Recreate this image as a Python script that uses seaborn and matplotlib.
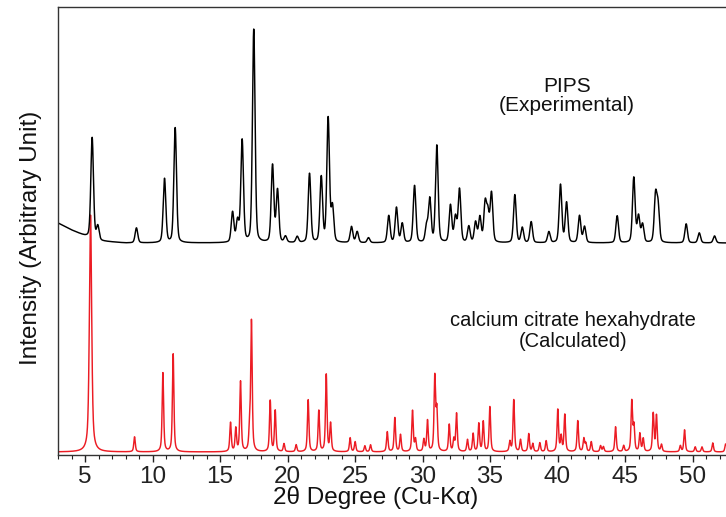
import numpy as np
import pandas as pd
import matplotlib
matplotlib.use("Agg")
import matplotlib.pyplot as plt
import seaborn as sns
from matplotlib.ticker import MultipleLocator

# ---- data (2theta positions, peak heights in arbitrary units) ----
exp_pos = [5.53, 5.95, 8.81, 10.89, 11.68, 15.93, 16.30, 16.64, 17.50, 18.89, 19.26, 19.85,
           20.72, 21.63, 22.50, 23.01, 23.33, 24.74, 25.16, 26.0, 27.50, 28.07, 28.50, 29.41,
           30.30, 30.54, 31.06, 32.07, 32.44, 32.74, 33.43, 33.93, 34.25, 34.64, 34.84, 35.11,
           36.84, 37.39, 38.05, 39.36, 40.22, 40.67, 41.63, 42.00, 44.42, 45.65, 46.00, 46.30,
           47.26, 47.45, 49.53, 50.50, 51.63]
exp_amp = [101, 14, 15, 64, 115, 30, 21, 102, 213, 77, 52, 6,
           6, 69, 65, 124, 35, 16, 11, 5, 27, 35, 19, 57,
           16, 43, 97, 37, 25, 53, 16, 20, 25, 38, 28, 49,
           48, 15, 21, 11, 58, 40, 27, 16, 27, 65, 26, 18,
           46, 35, 19, 10, 7]
exp_bg_x = [3.0, 4.0, 5.0, 6.0, 8.0, 52.5]
exp_bg_y = [232, 225, 219, 214, 212, 212]

calc_pos = [5.41, 8.67, 10.77, 11.53, 15.78, 16.17, 16.52, 17.19, 17.33, 18.72, 19.09, 19.74,
            20.64, 21.53, 22.32, 22.87, 23.19, 24.64, 25.01, 25.73, 26.15, 27.39, 27.95, 28.37,
            29.26, 29.48, 30.10, 30.37, 30.91, 31.06, 31.98, 32.32, 32.52, 33.33, 33.75, 34.17,
            34.50, 34.99, 36.47, 36.76, 37.26, 37.87, 38.17, 38.69, 39.16, 40.02, 40.27, 40.54,
            41.50, 41.95, 42.10, 42.50, 43.19, 43.40, 44.30, 44.90, 45.50, 45.66, 46.10, 46.35,
            47.09, 47.33, 47.70, 49.10, 49.41, 50.20, 50.70, 51.50, 52.45]
calc_amp = [237, 15, 79, 98, 29, 23, 70, 20, 130, 51, 41, 8,
            7, 52, 41, 77, 28, 14, 10, 6, 7, 20, 34, 17,
            41, 12, 12, 31, 74, 40, 27, 12, 38, 12, 18, 28,
            30, 45, 10, 52, 12, 18, 8, 9, 11, 42, 15, 37,
            31, 13, 8, 10, 6, 5, 25, 6, 50, 25, 18, 13,
            38, 36, 7, 6, 22, 5, 5, 9, 8]
calc_base = 3

labels_exp = ["PIPS", "(Experimental)"]
labels_calc = ["calcium citrate hexahydrate", "(Calculated)"]
x_ticks = [5, 10, 15, 20, 25, 30, 35, 40, 45, 50]

# ---- build profiles from the peak lists ----
tt = np.linspace(3.0, 52.5, 8000)

def pv(x, c, a, fwhm, eta):
    g = np.exp(-4 * np.log(2) * (x - c) ** 2 / fwhm ** 2)
    l = 1.0 / (1 + 4 * (x - c) ** 2 / fwhm ** 2)
    return a * (eta * l + (1 - eta) * g)

exp_y = np.interp(tt, exp_bg_x, exp_bg_y).astype(float)
for c, a in zip(exp_pos, exp_amp):
    exp_y += pv(tt, c, a, 0.23, 0.3)

calc_y = np.full_like(tt, float(calc_base))
for i, (c, a) in enumerate(zip(calc_pos, calc_amp)):
    w = 0.20 if i == 0 else 0.13
    calc_y += pv(tt, c, a, w, 0.6)

df = pd.DataFrame({
    "two_theta": np.concatenate([tt, tt]),
    "intensity": np.concatenate([exp_y, calc_y]),
    "series": ["exp"] * len(tt) + ["calc"] * len(tt),
})

sns.set_theme(style="white")
plt.rcParams["font.family"] = ["Liberation Sans", "DejaVu Sans"]

fig = plt.figure(figsize=(7.26, 5.17), dpi=100)
ax = fig.add_axes([58 / 726, 1 - 455 / 517, (726 - 58) / 726, (455 - 7) / 517])

sns.lineplot(data=df, x="two_theta", y="intensity", hue="series",
             hue_order=["calc", "exp"], palette={"calc": "#ec1c24", "exp": "#000000"},
             linewidth=1.05, legend=False, ax=ax, estimator=None, sort=False)

ax.set_xlim(3.0, 52.48)
ax.set_ylim(0, 448)
ax.set_yticks([])
ax.xaxis.set_major_locator(matplotlib.ticker.FixedLocator(x_ticks))
ax.xaxis.set_minor_locator(MultipleLocator(1))
ax.tick_params(axis="x", which="major", direction="out", length=5, width=1, labelsize=17.5,
               colors="#222222", pad=3, bottom=True)
ax.tick_params(axis="x", which="minor", direction="out", length=3, width=0.8, bottom=True,
               colors="#222222")
for s in ["left", "top", "bottom"]:
    ax.spines[s].set_color("#333333")
    ax.spines[s].set_linewidth(1.0)
ax.spines["right"].set_visible(False)

ax.set_xlabel("2\u03b8 Degree (Cu-K\u03b1)", fontsize=17.5, color="#111111")
ax.set_ylabel("Intensity (Arbitrary Unit)", fontsize=17.5, color="#111111")
ax.xaxis.set_label_coords((376 - 58) / 668, -(486 - 455) / 448)
ax.yaxis.set_label_coords(-(58 - 31) / 668, (455 - 238) / 448)
ax.xaxis.label.set_va("top")
ax.yaxis.label.set_va("center")

ax.text(40.7, 359, labels_exp[0] + "\n" + labels_exp[1], ha="center", va="center",
        fontsize=15, color="#111111", linespacing=1.05)
ax.text(41.15, 124, labels_calc[0] + "\n" + labels_calc[1], ha="center", va="center",
        fontsize=14.5, color="#111111", linespacing=1.15)

fig.savefig("out.png", dpi=100)
